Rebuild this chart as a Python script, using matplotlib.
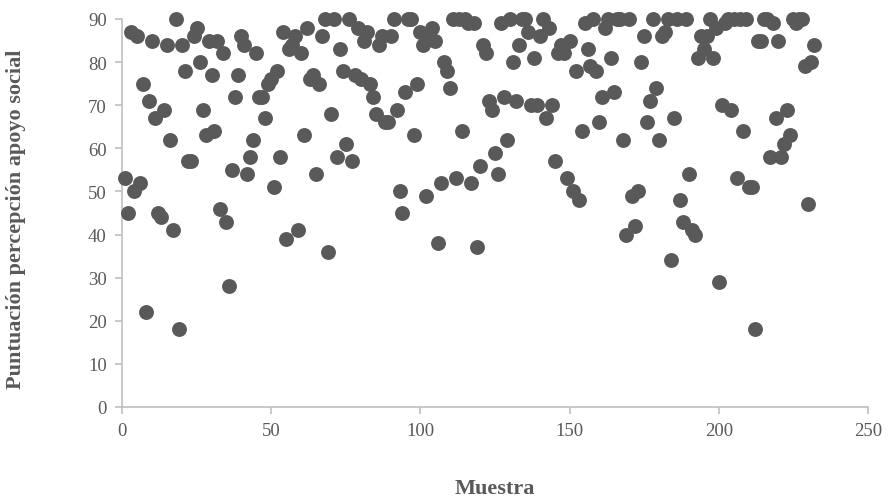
import matplotlib
matplotlib.use("Agg")
import matplotlib.pyplot as plt

# muestra (index) and puntuación
muestra = list(range(1, 233))
puntuacion = [
    53, 45, 87, 50, 86, 52, 75, 22, 71, 85,
    67, 45, 44, 69, 84, 62, 41, 90, 18, 84,
    78, 57, 57, 86, 88, 80, 69, 63, 85, 77,
    64, 85, 46, 82, 43, 28, 55, 72, 77, 86,
    84, 54, 58, 62, 82, 72, 72, 67, 75, 76,
    51, 78, 58, 87, 39, 83, 84, 86, 41, 82,
    63, 88, 76, 77, 54, 75, 86, 90, 36, 68,
    90, 58, 83, 78, 61, 90, 57, 77, 88, 76,
    85, 87, 75, 72, 68, 84, 86, 66, 66, 86,
    90, 69, 50, 45, 73, 90, 90, 63, 75, 87,
    84, 49, 86, 88, 85, 38, 52, 80, 78, 74,
    90, 53, 90, 64, 90, 89, 52, 89, 37, 56,
    84, 82, 71, 69, 59, 54, 89, 72, 62, 90,
    80, 71, 84, 90, 90, 87, 70, 81, 70, 86,
    90, 67, 88, 70, 57, 82, 84, 82, 53, 85,
    50, 78, 48, 64, 89, 83, 79, 90, 78, 66,
    72, 88, 90, 81, 73, 90, 90, 62, 40, 90,
    49, 42, 50, 80, 86, 66, 71, 90, 74, 62,
    86, 87, 90, 34, 67, 90, 48, 43, 90, 54,
    41, 40, 81, 86, 83, 86, 90, 81, 88, 29,
    70, 89, 90, 69, 90, 53, 90, 64, 90, 51,
    51, 18, 85, 85, 90, 90, 58, 89, 67, 85,
    58, 61, 69, 63, 90, 89, 90, 90, 79, 47,
    80, 84,
]

plt.rcParams['font.family'] = ['Liberation Serif', 'DejaVu Serif']

fig = plt.figure(figsize=(8.91, 5.02), dpi=100)
ax = fig.add_axes([0.1369, 0.1873, 0.8373, 0.7729])

ax.scatter(muestra, puntuacion, s=115, color="#595959", linewidths=0, clip_on=False, zorder=3)

ax.set_xlim(0, 250)
ax.set_ylim(0, 90)
ax.set_xticks(range(0, 251, 50))
ax.set_yticks(range(0, 91, 10))

for side in ["top", "right"]:
    ax.spines[side].set_visible(False)
for side in ["left", "bottom"]:
    ax.spines[side].set_color("#BFBFBF")
    ax.spines[side].set_linewidth(1.2)
ax.tick_params(axis="both", colors="#BFBFBF", length=5, width=1.2, labelsize=13.5,
               labelcolor="#595959", pad=6)

ax.set_xlabel("Muestra", fontsize=16, fontweight="bold", color="#595959")
ax.set_ylabel("Puntuación percepción apoyo social", fontsize=16, fontweight="bold", color="#595959")
ax.xaxis.set_label_coords(0.5, -0.183)
ax.yaxis.set_label_coords(-0.128, 0.485)

fig.savefig("out.png", dpi=100)
